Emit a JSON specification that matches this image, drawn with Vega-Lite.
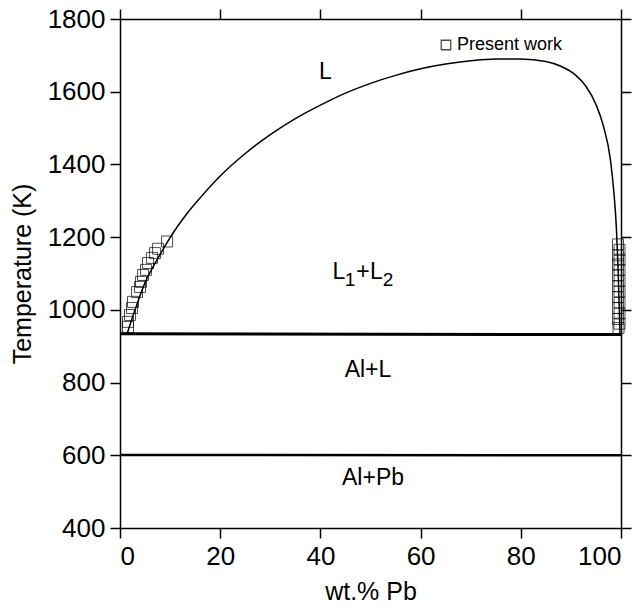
{
  "$schema": "https://vega.github.io/schema/vega-lite/v6.json",
  "autosize": {"type": "none"},
  "padding": {"left": 120, "top": 19, "right": 22, "bottom": 82},
  "width": 501,
  "height": 509,
  "config": {
    "font": "Liberation Sans",
    "view": {"stroke": null},
    "axis": {
      "domainColor": "black", "domainWidth": 1.5, "tickColor": "black", "tickWidth": 1.5, "tickSize": 10,
      "labelColor": "black", "labelFontSize": 26, "labelFont": "Liberation Sans", "titleColor": "black",
      "titleFontSize": 25, "titleFont": "Liberation Sans", "titleFontWeight": "normal", "grid": false, "labelPadding": 5
    }
  },
  "datasets": {
    "curve": [
      {"x": 1.4, "T": 933}, {"x": 3, "T": 1000}, {"x": 5, "T": 1075}, {"x": 7.5, "T": 1140},
      {"x": 9.6, "T": 1190}, {"x": 11.5, "T": 1230}, {"x": 13.5, "T": 1267}, {"x": 16, "T": 1308},
      {"x": 20, "T": 1368}, {"x": 25, "T": 1430}, {"x": 30, "T": 1482}, {"x": 35, "T": 1526},
      {"x": 40, "T": 1563}, {"x": 45, "T": 1596}, {"x": 50, "T": 1623}, {"x": 55, "T": 1645},
      {"x": 60, "T": 1663}, {"x": 65, "T": 1676}, {"x": 70, "T": 1685}, {"x": 75, "T": 1690},
      {"x": 80, "T": 1690}, {"x": 85, "T": 1683}, {"x": 88, "T": 1670}, {"x": 91, "T": 1645},
      {"x": 93, "T": 1615}, {"x": 95, "T": 1565}, {"x": 96.5, "T": 1505}, {"x": 97.9, "T": 1412},
      {"x": 98.6, "T": 1320}, {"x": 99.1, "T": 1220}, {"x": 99.4, "T": 1120}, {"x": 99.6, "T": 1030},
      {"x": 99.8, "T": 933}
    ],
    "pts": [
      {"x": 9.4, "T": 1188, "series": "Present work"}, {"x": 7.6, "T": 1168, "series": "Present work"},
      {"x": 7.0, "T": 1156, "series": "Present work"}, {"x": 6.4, "T": 1143, "series": "Present work"},
      {"x": 5.6, "T": 1129, "series": "Present work"}, {"x": 5.2, "T": 1110, "series": "Present work"},
      {"x": 4.6, "T": 1096, "series": "Present work"}, {"x": 4.2, "T": 1077, "series": "Present work"},
      {"x": 4.0, "T": 1063, "series": "Present work"}, {"x": 3.4, "T": 1049, "series": "Present work"},
      {"x": 2.6, "T": 1022, "series": "Present work"}, {"x": 2.4, "T": 1005, "series": "Present work"},
      {"x": 2.0, "T": 986, "series": "Present work"}, {"x": 1.6, "T": 967, "series": "Present work"},
      {"x": 1.6, "T": 953, "series": "Present work"},
      {"x": 99.4, "T": 1180, "series": "Present work"}, {"x": 99.7, "T": 1165, "series": "Present work"},
      {"x": 99.4, "T": 1150, "series": "Present work"}, {"x": 99.7, "T": 1138, "series": "Present work"},
      {"x": 99.4, "T": 1125, "series": "Present work"}, {"x": 99.7, "T": 1110, "series": "Present work"},
      {"x": 99.4, "T": 1095, "series": "Present work"}, {"x": 99.7, "T": 1080, "series": "Present work"},
      {"x": 99.4, "T": 1065, "series": "Present work"}, {"x": 99.7, "T": 1050, "series": "Present work"},
      {"x": 99.4, "T": 1035, "series": "Present work"}, {"x": 99.7, "T": 1020, "series": "Present work"},
      {"x": 99.4, "T": 1005, "series": "Present work"}, {"x": 99.7, "T": 990, "series": "Present work"},
      {"x": 99.4, "T": 975, "series": "Present work"}, {"x": 99.7, "T": 962, "series": "Present work"},
      {"x": 99.5, "T": 950, "series": "Present work"}
    ],
    "hlines": [
      {"x": 0, "T": 934, "id": "mono", "w": 3}, {"x": 100, "T": 932, "id": "mono", "w": 3},
      {"x": 0, "T": 601, "id": "eut", "w": 2.5}, {"x": 100, "T": 600, "id": "eut", "w": 2.5}
    ],
    "labels": [
      {"x": 41, "T": 1655, "text": "L"},
      {"x": 43.7, "T": 1105, "text": "L"},
      {"x": 48.5, "T": 1105, "text": "+"},
      {"x": 51.2, "T": 1105, "text": "L"},
      {"x": 49.5, "T": 835, "text": "Al+L"},
      {"x": 50.5, "T": 538, "text": "Al+Pb"}
    ],
    "subs": [
      {"x": 45.9, "T": 1082, "text": "1"},
      {"x": 53.5, "T": 1082, "text": "2"}
    ]
  },
  "layer": [
    {
      "data": {"name": "curve"},
      "mark": {"type": "line", "color": "black", "strokeWidth": 1.5, "interpolate": "monotone"},
      "encoding": {
        "x": {"field": "x", "type": "quantitative", "scale": {"domain": [0, 100], "nice": false}, "axis": {"title": "wt.% Pb", "values": [0, 20, 40, 60, 80, 100], "format": "d", "titlePadding": 10}},
        "y": {"field": "T", "type": "quantitative", "scale": {"domain": [400, 1800], "nice": false, "zero": false}, "axis": {"title": "Temperature (K)", "values": [400, 600, 800, 1000, 1200, 1400, 1600, 1800], "format": "d", "titlePadding": 12}}
      }
    },
    {
      "data": {"name": "hlines"},
      "mark": {"type": "line", "color": "black"},
      "encoding": {
        "x": {"field": "x", "type": "quantitative", "axis": {"orient": "top", "labels": false, "title": null, "values": [0, 20, 40, 60, 80, 100]}},
        "y": {"field": "T", "type": "quantitative", "axis": {"orient": "right", "labels": false, "title": null, "values": [400, 600, 800, 1000, 1200, 1400, 1600, 1800]}},
        "detail": {"field": "id"},
        "strokeWidth": {"field": "w", "type": "quantitative", "scale": null}
      }
    },
    {
      "data": {"name": "pts"},
      "mark": {"type": "point", "filled": false, "strokeWidth": 1},
      "encoding": {
        "x": {"field": "x", "type": "quantitative", "axis": null},
        "y": {"field": "T", "type": "quantitative", "axis": null},
        "shape": {"field": "series", "type": "nominal", "scale": {"range": ["square"]},
          "legend": {"title": null, "orient": "none", "legendX": 317, "legendY": 17, "labelFontSize": 18, "labelColor": "black", "symbolSize": 90, "symbolStrokeColor": "black", "symbolStrokeWidth": 1.3, "symbolFillColor": "transparent", "padding": 0, "labelOffset": 2}},
        "color": {"value": "black"},
        "size": {"value": 121}
      }
    },
    {
      "data": {"name": "labels"},
      "mark": {"type": "text", "fontSize": 23, "color": "black", "font": "Liberation Sans", "baseline": "middle"},
      "encoding": {
        "x": {"field": "x", "type": "quantitative", "axis": null},
        "y": {"field": "T", "type": "quantitative", "axis": null},
        "text": {"field": "text"}
      }
    },
    {
      "data": {"name": "subs"},
      "mark": {"type": "text", "fontSize": 19, "color": "black", "font": "Liberation Sans", "baseline": "middle"},
      "encoding": {
        "x": {"field": "x", "type": "quantitative", "axis": null},
        "y": {"field": "T", "type": "quantitative", "axis": null},
        "text": {"field": "text"}
      }
    }
  ],
  "resolve": {"axis": {"x": "independent", "y": "independent"}}
}
